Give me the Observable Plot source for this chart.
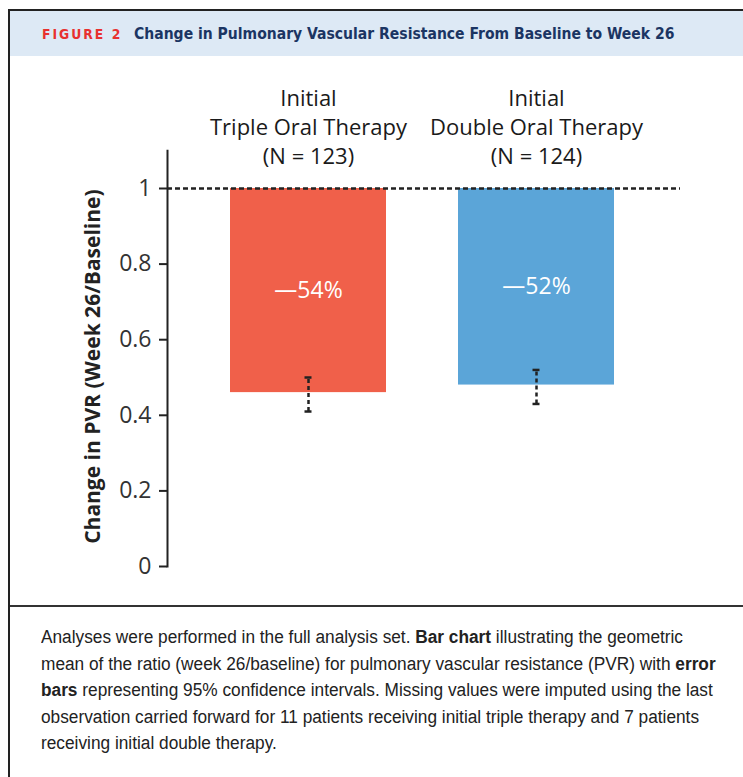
<!DOCTYPE html>
<html><head><meta charset="utf-8">
<script src="https://cdn.jsdelivr.net/npm/d3@7"></script>
<script src="https://cdn.jsdelivr.net/npm/@observablehq/plot@0.6"></script>
<style>
html,body{margin:0;padding:0;background:#fff;}
#page{position:relative;width:743px;height:777px;overflow:hidden;background:#fff;}
#vline{position:absolute;left:8px;top:9px;width:2px;height:800px;background:#222;}
#hline{position:absolute;left:8px;top:9px;width:800px;height:2px;background:#222;}
#band{position:absolute;left:10px;top:11px;width:740px;height:45px;background:#dde9f5;}
.hd{position:absolute;top:11px;height:46px;line-height:46px;white-space:nowrap;font-family:'DejaVu Sans Condensed','DejaVu Sans',sans-serif;font-weight:bold;}
#fig{left:42px;color:#e8312f;font-size:12.5px;letter-spacing:2px;}
#tt{left:134px;color:#1b3563;font-size:15px;}
#chart{position:absolute;left:0;top:56px;}
#sep{position:absolute;left:10px;top:605px;width:740px;height:2px;background:#333;}
#cap{position:absolute;left:41px;top:624px;font-family:'Liberation Sans','Arial',sans-serif;font-size:18px;line-height:26.5px;color:#222;white-space:nowrap;transform-origin:0 0;}
</style></head>
<body>
<div id="page">
  <div id="band"></div>
  <div id="vline"></div>
  <div id="hline"></div>
  <div class="hd" id="fig">FIGURE 2</div>
  <div class="hd" id="tt"><span id="ttspan">Change in Pulmonary Vascular Resistance From Baseline to Week 26</span></div>
  <div id="chart"></div>
  <div id="sep"></div>
  <div id="cap"><span id="cap1">Analyses were performed in the full analysis set. <b>Bar chart</b> illustrating the geometric</span><br>mean of the ratio (week 26/baseline) for pulmonary vascular resistance (PVR) with <b>error</b><br><b>bars</b> representing 95% confidence intervals. Missing values were imputed using the last<br>observation carried forward for 11 patients receiving initial triple therapy and 7 patients<br>receiving initial double therapy.</div>
</div>
<script>
const groups = ["Triple", "Double"];
const headers = ["Initial\nTriple Oral Therapy\n(N = 123)", "Initial\nDouble Oral Therapy\n(N = 124)"];
const ratios = [0.46, 0.48];
const ciLow = [0.41, 0.43];
const ciHigh = [0.50, 0.52];
const changeLabels = ["—54%", "—52%"];
const colors = ["#f0604a", "#5ba5d8"];
const yTicks = [0, 0.2, 0.4, 0.6, 0.8, 1];
const baseline = 1;
const yLabel = "Change in PVR (Week 26/Baseline)";

const data = groups.map((g, i) => ({group: g, header: headers[i], ratio: ratios[i], lo: ciLow[i], hi: ciHigh[i], label: changeLabels[i]}));

const chart = Plot.plot({
  width: 743, height: 550,
  marginLeft: 167, marginRight: 63, marginTop: 94.2, marginBottom: 40,
  style: {background: "transparent", fontFamily: "'Open Sans', sans-serif", color: "#222"},
  x: {domain: groups, range: [229, 615], paddingInner: 0.3144, paddingOuter: 0, axis: null},
  y: {domain: [0, 1.1], axis: null},
  color: {domain: groups, range: colors},
  marks: [
    Plot.barY(data, {x: "group", y1: "ratio", y2: baseline, fill: "group"}),
    Plot.ruleY([baseline], {stroke: "#222", strokeWidth: 2.5, strokeDasharray: "5,3"}),
    Plot.frame({anchor: "left", stroke: "#222", strokeWidth: 2}),
    Plot.axisY(yTicks, {tickSize: 8, tickPadding: 8, fontSize: 23, strokeWidth: 2, stroke: "#222", fill: "#333", label: null, tickFormat: d => String(d)}),
    Plot.ruleX(data, {x: "group", y1: "lo", y2: "hi", stroke: "#222", strokeWidth: 2.5, strokeDasharray: "4,3"}),
    Plot.tickY(data, {x: "group", y: "lo", insetLeft: 74.5, insetRight: 74.5, stroke: "#222", strokeWidth: 2.5}),
    Plot.tickY(data, {x: "group", y: "hi", insetLeft: 74.5, insetRight: 74.5, stroke: "#222", strokeWidth: 2.5}),
    Plot.text(data, {x: "group", y: d => (d.ratio + baseline) / 2, text: "label", fill: "white", fontSize: 23}),
    Plot.text(data, {x: "group", text: "header", frameAnchor: "top", dy: -25, lineAnchor: "middle", fontSize: 22, lineHeight: 1.32, fill: "#1a1a1a"}),
    Plot.text([yLabel], {text: d => d, frameAnchor: "left", textAnchor: "middle", rotate: -90, dx: -74, dy: 8, fontSize: 21, fontWeight: "bold", fill: "#222"})
  ]
});
document.getElementById("chart").appendChild(chart);

function fitWidth(measureEl, sizeEl, target) {
  const w = measureEl.getBoundingClientRect().width;
  const fs = parseFloat(getComputedStyle(sizeEl).fontSize);
  if (w > 0) sizeEl.style.fontSize = (fs * target / w) + "px";
}
fitWidth(document.getElementById("ttspan"), document.getElementById("tt"), 541);
fitWidth(document.getElementById("fig"), document.getElementById("fig"), 82);
(function () {
  const cap = document.getElementById("cap");
  const w = document.getElementById("cap1").getBoundingClientRect().width;
  if (w > 0) cap.style.transform = "scaleX(" + (642 / w) + ")";
})();
</script>
</body></html>
